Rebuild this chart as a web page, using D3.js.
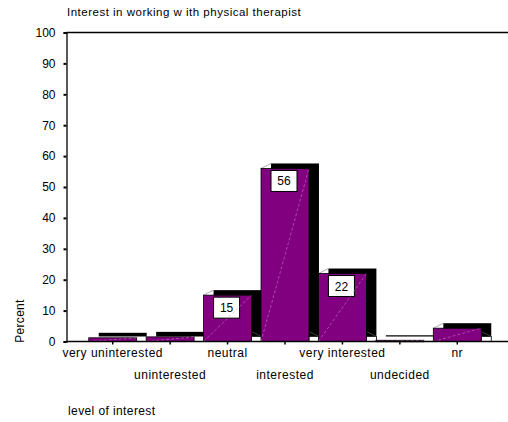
<!DOCTYPE html>
<html>
<head>
<meta charset="utf-8">
<script src="https://cdn.jsdelivr.net/npm/d3@7"></script>
<style>
  html, body { margin: 0; padding: 0; background: #fff; }
  svg { display: block; font-family: "Liberation Sans", Arial, sans-serif; }
</style>
</head>
<body>
<svg id="chart" width="508" height="422"></svg>
<script>
// ---- data ----
const categories = ["very uninterested", "uninterested", "neutral", "interested", "very interested", "undecided", "nr"];
const percentValues = [1.2, 1.5, 15, 56, 22, 0.4, 4.3];
const labelledValues = [null, null, 15, 56, 22, null, null];
const yTickValues = [0, 10, 20, 30, 40, 50, 60, 70, 80, 90, 100];
const titleText = "Interest in working w ith physical therapist";
const yTitle = "Percent";
const xTitle = "level of interest";

// ---- layout ----
const svg = d3.select("#chart");
const W = 508, H = 422;
const axisX = 66.5, yBase = 341.5, yTop = 32.5;
const depthX = 10, depthY = -5;
const purple = "#800080";

const y = d3.scaleLinear().domain([0, 100]).range([yBase, yTop]);
const x = d3.scaleBand().domain(categories).range([84, 486])
  .paddingInner(0.165).paddingOuter(0.0825);

// title
svg.append("text").attr("x", 67).attr("y", 16)
  .attr("font-size", 11.5).attr("letter-spacing", 0.5).attr("fill", "#000").text(titleText);

// top frame line
svg.append("line").attr("x1", axisX).attr("x2", W).attr("y1", yTop).attr("y2", yTop)
  .attr("stroke", "#000").attr("stroke-width", 1.3);

// bars
const g = svg.append("g");
const data = categories.map((c, i) => ({ c, v: percentValues[i], lab: labelledValues[i] }));

data.forEach(d => {
  const x0 = x(d.c), w = x.bandwidth(), x1 = x0 + w, yt = y(d.v);
  // depth shadow
  g.append("rect")
    .attr("x", x0 + depthX).attr("y", yt + depthY)
    .attr("width", w).attr("height", Math.max(1.2, yBase - yt))
    .attr("fill", "#000");
  // bottom gap box for taller bars
  if (yBase - yt > 8) {
    g.append("rect")
      .attr("x", x1).attr("y", yBase + depthY)
      .attr("width", depthX).attr("height", -depthY)
      .attr("fill", "#fff").attr("stroke", "#000").attr("stroke-width", 0.8);
    g.append("line")
      .attr("x1", x0 + depthX).attr("y1", yt + depthY)
      .attr("x2", x0).attr("y2", yt)
      .attr("stroke", "#777").attr("stroke-width", 0.6);
    g.append("line")
      .attr("x1", x1).attr("y1", yBase - 10)
      .attr("x2", x1 + depthX).attr("y2", yBase + depthY)
      .attr("stroke", "#666").attr("stroke-width", 0.6);
  }
  // front face
  g.append("rect")
    .attr("x", x0).attr("y", yt)
    .attr("width", w).attr("height", Math.max(1.5, yBase - yt))
    .attr("fill", purple).attr("stroke", "#000").attr("stroke-width", 0.8);
});

// value labels
data.filter(d => d.lab !== null).forEach(d => {
  const cx = x(d.c) + x.bandwidth() / 2 - 1, yt = y(d.v);
  g.append("rect").attr("x", cx - 13).attr("y", yt + 2)
    .attr("width", 26).attr("height", 21)
    .attr("fill", "#fff").attr("stroke", "#000").attr("stroke-width", 1);
  g.append("text").attr("x", cx).attr("y", yt + 17)
    .attr("text-anchor", "middle").attr("font-size", 12).text(d.lab);
});

// faint diagonals across bar faces
data.forEach(d => {
  const x0 = x(d.c), x1 = x0 + x.bandwidth(), yt = y(d.v);
  g.append("line").attr("x1", x0).attr("y1", yBase).attr("x2", x1).attr("y2", yt)
    .attr("stroke", "#d890d8").attr("stroke-width", 0.5).attr("stroke-dasharray", "3,2");
});

// y axis
const yAxis = d3.axisLeft(y).tickValues(yTickValues).tickSize(3).tickPadding(8);
const ya = svg.append("g").attr("transform", `translate(${axisX},0)`).call(yAxis);
ya.select(".domain").attr("stroke", "#000").attr("stroke-width", 1.3);
ya.selectAll(".tick line").attr("stroke", "#000").attr("stroke-width", 2);
ya.selectAll(".tick text").attr("font-size", 12).attr("font-family", "Liberation Sans, Arial, sans-serif").attr("fill", "#000");

// x baseline
svg.append("line").attr("x1", axisX).attr("x2", W).attr("y1", yBase).attr("y2", yBase)
  .attr("stroke", "#000").attr("stroke-width", 1.3);

// x ticks and staggered labels
const xg = svg.append("g");
categories.forEach((c, i) => {
  const cx = x(c) + x.bandwidth() / 2;
  xg.append("line").attr("x1", cx).attr("x2", cx).attr("y1", yBase).attr("y2", yBase + 3)
    .attr("stroke", "#000").attr("stroke-width", 1.5);
  xg.append("text").attr("x", cx).attr("y", i % 2 === 0 ? 357 : 379)
    .attr("text-anchor", "middle").attr("font-size", 12).attr("letter-spacing", 0.5).text(c);
});

// axis titles
svg.append("text").attr("transform", "translate(24,321) rotate(-90)")
  .attr("text-anchor", "middle").attr("font-size", 12).attr("letter-spacing", 0.3).text(yTitle);
svg.append("text").attr("x", 68).attr("y", 415)
  .attr("font-size", 12).attr("letter-spacing", 0.4).text(xTitle);
</script>
</body>
</html>
